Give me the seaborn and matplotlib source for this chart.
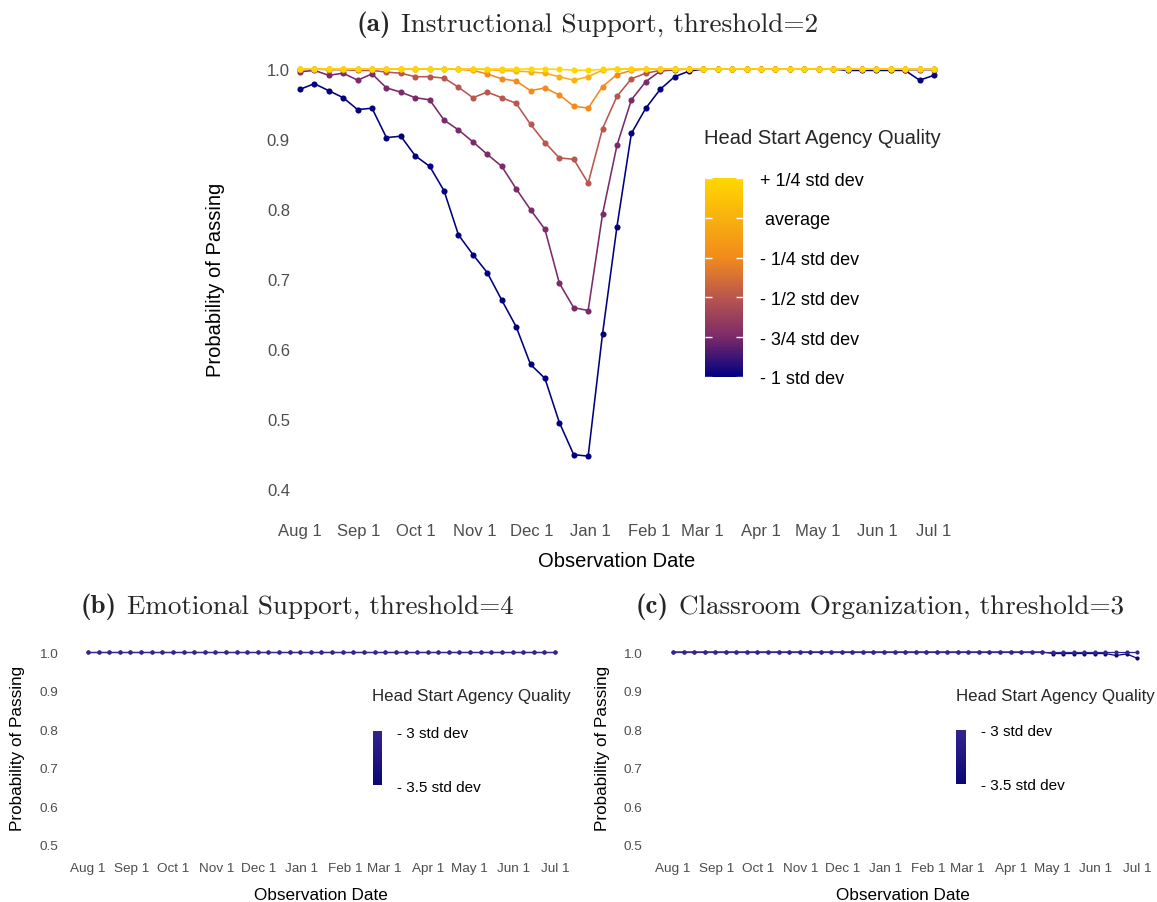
import numpy as np
import pandas as pd
import matplotlib
matplotlib.use("Agg")
import matplotlib.pyplot as plt
import seaborn as sns
from matplotlib.colors import LinearSegmentedColormap, Normalize
from matplotlib.cm import ScalarMappable

# ---------------- data ----------------
START, END, N_OBS = "2012-08-01", "2013-07-01", 45
obs_dates = pd.date_range(START, END, periods=N_OBS)
month_ticks = pd.date_range(START, END, freq="MS")
month_labels = ["Aug 1", "Sep 1", "Oct 1", "Nov 1", "Dec 1", "Jan 1",
                "Feb 1", "Mar 1", "Apr 1", "May 1", "Jun 1", "Jul 1"]

# (a) Instructional Support, threshold=2
a_levels = [-1.0, -0.75, -0.5, -0.25, 0.0, 0.25]
a_labels = ["- 1 std dev", "- 3/4 std dev", "- 1/2 std dev",
            "- 1/4 std dev", " average", "+ 1/4 std dev"]
a_colors = ["#000080", "#7B2A6A", "#B9564E", "#F28A1C", "#F8B10E", "#FFD700"]
a_yticks = [0.4, 0.5, 0.6, 0.7, 0.8, 0.9, 1.0]

a_m100 = [0.971, 0.979, 0.969, 0.959, 0.942, 0.944, 0.902, 0.904, 0.876, 0.861,
          0.826, 0.763, 0.735, 0.709, 0.670, 0.632, 0.578, 0.558, 0.495, 0.449,
          0.447, 0.622, 0.775, 0.908, 0.944, 0.971, 0.989, 0.997, 1.000, 1.000,
          1.000, 1.000, 1.000, 1.000, 1.000, 1.000, 1.000, 1.000, 0.998, 0.998,
          0.998, 0.998, 0.998, 0.984, 0.991]
a_m075 = [0.996, 0.998, 0.991, 0.994, 0.984, 0.993, 0.973, 0.967, 0.959, 0.956,
          0.927, 0.913, 0.896, 0.878, 0.861, 0.829, 0.799, 0.771, 0.694, 0.659,
          0.655, 0.793, 0.891, 0.956, 0.982, 0.997, 0.999, 1.000, 1.000, 1.000,
          1.000, 1.000, 1.000, 1.000, 1.000, 1.000, 1.000, 1.000, 1.000, 1.000,
          1.000, 1.000, 0.999, 0.999, 0.999]
a_m050 = [0.999, 1.000, 0.999, 0.999, 0.998, 0.998, 0.9955, 0.994, 0.989, 0.989,
          0.987, 0.974, 0.959, 0.967, 0.959, 0.951, 0.921, 0.895, 0.873, 0.871,
          0.837, 0.915, 0.961, 0.986, 0.994, 0.998, 0.9995, 1.000, 1.000, 1.000,
          1.000, 1.000, 1.000, 1.000, 1.000, 1.000, 1.000, 1.000, 1.000, 1.000,
          1.000, 1.000, 1.000, 1.000, 1.000]
a_m025 = [1.000, 1.000, 1.000, 1.000, 1.000, 1.000, 1.000, 1.000, 1.000, 1.000,
          1.000, 0.9995, 0.998, 0.993, 0.986, 0.983, 0.969, 0.973, 0.963, 0.947,
          0.944, 0.975, 0.992, 0.998, 1.000, 1.000, 1.000, 1.000, 1.000, 1.000,
          1.000, 1.000, 1.000, 1.000, 1.000, 1.000, 1.000, 1.000, 1.000, 1.000,
          1.000, 1.000, 1.000, 1.000, 1.000]
a_avg = [1.000, 1.000, 1.000, 1.000, 1.000, 1.000, 1.000, 1.000, 1.000, 1.000,
         1.000, 1.000, 1.000, 0.999, 0.998, 0.997, 0.996, 0.994, 0.989, 0.984,
         0.989, 0.9985, 1.000, 1.000, 1.000, 1.000, 1.000, 1.000, 1.000, 1.000,
         1.000, 1.000, 1.000, 1.000, 1.000, 1.000, 1.000, 1.000, 1.000, 1.000,
         1.000, 1.000, 1.000, 1.000, 1.000]
a_p025 = [1.000, 1.000, 1.000, 1.000, 1.000, 1.000, 1.000, 1.000, 1.000, 1.000,
          1.000, 1.000, 1.000, 1.000, 1.000, 1.000, 1.000, 1.000, 0.9995, 0.9985,
          0.998, 0.9995, 1.000, 1.000, 1.000, 1.000, 1.000, 1.000, 1.000, 1.000,
          1.000, 1.000, 1.000, 1.000, 1.000, 1.000, 1.000, 1.000, 1.000, 1.000,
          1.000, 1.000, 1.000, 1.000, 1.000]
a_series = [a_m100, a_m075, a_m050, a_m025, a_avg, a_p025]

# (b) Emotional Support, threshold=4 and (c) Classroom Organization, threshold=3
bc_levels = [-3.5, -3.0]
bc_labels = ["- 3.5 std dev", "- 3 std dev"]
bc_colors = ["#0B0777", "#33248F"]
bc_yticks = [0.5, 0.6, 0.7, 0.8, 0.9, 1.0]

b_m350 = [1.000, 1.000, 1.000, 1.000, 1.000, 1.000, 1.000, 1.000, 1.000, 1.000,
          1.000, 1.000, 1.000, 1.000, 1.000, 1.000, 1.000, 1.000, 1.000, 1.000,
          1.000, 1.000, 1.000, 1.000, 1.000, 1.000, 1.000, 1.000, 1.000, 1.000,
          1.000, 1.000, 1.000, 1.000, 1.000, 1.000, 1.000, 1.000, 1.000, 1.000,
          1.000, 1.000, 1.000, 1.000, 1.000]
b_m300 = [1.000, 1.000, 1.000, 1.000, 1.000, 1.000, 1.000, 1.000, 1.000, 1.000,
          1.000, 1.000, 1.000, 1.000, 1.000, 1.000, 1.000, 1.000, 1.000, 1.000,
          1.000, 1.000, 1.000, 1.000, 1.000, 1.000, 1.000, 1.000, 1.000, 1.000,
          1.000, 1.000, 1.000, 1.000, 1.000, 1.000, 1.000, 1.000, 1.000, 1.000,
          1.000, 1.000, 1.000, 1.000, 1.000]
c_m350 = [1.000, 1.000, 1.000, 1.000, 1.000, 1.000, 1.000, 1.000, 1.000, 1.000,
          1.000, 1.000, 1.000, 1.000, 1.000, 1.000, 1.000, 1.000, 1.000, 1.000,
          1.000, 1.000, 1.000, 1.000, 1.000, 1.000, 1.000, 1.000, 1.000, 1.000,
          1.000, 1.000, 1.000, 1.000, 1.000, 1.000, 0.996, 0.996, 0.996, 0.996,
          0.996, 0.996, 0.991, 0.995, 0.984]
c_m300 = [1.000, 1.000, 1.000, 1.000, 1.000, 1.000, 1.000, 1.000, 1.000, 1.000,
          1.000, 1.000, 1.000, 1.000, 1.000, 1.000, 1.000, 1.000, 1.000, 1.000,
          1.000, 1.000, 1.000, 1.000, 1.000, 1.000, 1.000, 1.000, 1.000, 1.000,
          1.000, 1.000, 1.000, 1.000, 1.000, 1.000, 1.000, 1.000, 1.000, 1.000,
          1.000, 1.000, 1.000, 1.000, 1.000]
b_series = [b_m350, b_m300]
c_series = [c_m350, c_m300]

# ---------------- style ----------------
sns.set_style("white")
plt.rcParams["font.family"] = ["Liberation Sans", "DejaVu Sans"]
TICK_GREY = "#4D4D4D"

W, H = 1157, 903
fig = plt.figure(figsize=(W / 100, H / 100), dpi=100)


def px_axes(left, top, right, bottom):
    return fig.add_axes([left / W, 1 - bottom / H, (right - left) / W, (bottom - top) / H])


def long_frame(series, labels):
    frames = []
    for vals, lab in zip(series, labels):
        frames.append(pd.DataFrame({"date": obs_dates, "prob": vals, "level": lab}))
    return pd.concat(frames, ignore_index=True)


def style_axes(ax, yticks, tick_size, title_size, xpad, ypad, ylab_x, xlab_y):
    for s in ax.spines.values():
        s.set_visible(False)
    ax.grid(False)
    ax.set_xticks(month_ticks)
    ax.set_xticklabels(month_labels)
    ax.set_yticks(yticks)
    ax.set_yticklabels([f"{v:.1f}" for v in yticks])
    ax.tick_params(axis="both", length=0, labelsize=tick_size, labelcolor=TICK_GREY)
    ax.tick_params(axis="x", pad=xpad)
    ax.tick_params(axis="y", pad=ypad)
    ax.set_xlabel("Observation Date", fontsize=title_size, color="black", va="center")
    ax.set_ylabel("Probability of Passing", fontsize=title_size, color="black", va="center")
    ax.yaxis.set_label_coords(ylab_x, 0.5)
    ax.xaxis.set_label_coords(0.5, xlab_y)


def two_part_title(xc, yc, bold, rest, size):
    r = fig.canvas.get_renderer()
    t1 = fig.text(0, 1 - yc / H, bold, family="cmb10", fontsize=size, va="center", ha="left")
    t2 = fig.text(0, 1 - yc / H, rest, family="cmr10", fontsize=size, va="center", ha="left")
    w1 = t1.get_window_extent(r).width
    w2 = t2.get_window_extent(r).width
    gap = size * 100 / 72 * 0.36
    x0 = xc - (w1 + gap + w2) / 2
    t1.set_x(x0 / W)
    t2.set_x((x0 + w1 + gap) / W)


def colorbar(left, top, right, bottom, levels, labels, colors, label_size, pad, white_ticks):
    cax = px_axes(left, top, right, bottom)
    cmap = LinearSegmentedColormap.from_list("q", colors)
    sm = ScalarMappable(norm=Normalize(min(levels), max(levels)), cmap=cmap)
    cb = fig.colorbar(sm, cax=cax, ticks=levels)
    cb.set_ticklabels(labels)
    cb.outline.set_visible(False)
    cax.tick_params(length=0, pad=pad, labelsize=label_size, labelcolor="black")
    if white_ticks:
        for lv in levels:
            cax.plot([0, 0.18], [lv, lv], color="white", lw=1.0, solid_capstyle="butt")
            cax.plot([0.82, 1], [lv, lv], color="white", lw=1.0, solid_capstyle="butt")
    return cax


# ---------------- panel (a) ----------------
ax_a = px_axes(292, 49, 941, 511)
df_a = long_frame(a_series, a_labels)
sns.lineplot(data=df_a, x="date", y="prob", hue="level", hue_order=a_labels,
             palette=dict(zip(a_labels, a_colors)), marker="o", markersize=4.4,
             markeredgewidth=0, linewidth=1.15, legend=False, errorbar=None, ax=ax_a)
t0 = pd.Timestamp(START)
t1 = pd.Timestamp(END)
ax_a.set_xlim(t0 - pd.Timedelta(days=4.2), t1 + pd.Timedelta(days=3.7))
ax_a.set_ylim(0.37, 1.03)
style_axes(ax_a, a_yticks, 12, 14.5, xpad=9.5, ypad=1.5, ylab_x=-0.118, xlab_y=-0.109)
two_part_title(587.5, 25, "(a)", "Instructional Support, threshold=2", 19.6)
fig.text(704 / W, 1 - 138 / H, "Head Start Agency Quality", fontsize=14.5, va="center", ha="left")
colorbar(705, 179, 743, 378, a_levels, a_labels, a_colors, 13, 12, True)

# ---------------- panel (b) ----------------
ax_b = px_axes(61, 640, 580, 856)
df_b = long_frame(b_series, bc_labels)
sns.lineplot(data=df_b, x="date", y="prob", hue="level", hue_order=bc_labels,
             palette=dict(zip(bc_labels, bc_colors)), marker="o", markersize=3.0,
             markeredgewidth=0, linewidth=0.9, legend=False, errorbar=None, ax=ax_b)
ax_b.set_xlim(t0 - pd.Timedelta(days=19.3), t1 + pd.Timedelta(days=17.9))
ax_b.set_ylim(0.474, 1.0337)
style_axes(ax_b, bc_yticks, 9.7, 12.3, xpad=5.4, ypad=2.2, ylab_x=-0.083, xlab_y=-0.181)
two_part_title(297, 607, "(b)", "Emotional Support, threshold=4", 19.5)
fig.text(372 / W, 1 - 697 / H, "Head Start Agency Quality", fontsize=12.2, va="center", ha="left")
colorbar(373, 732, 382, 786, bc_levels, bc_labels, bc_colors, 11, 11, False)

# ---------------- panel (c) ----------------
ax_c = px_axes(645, 640, 1160, 856)
df_c = long_frame(c_series, bc_labels)
sns.lineplot(data=df_c, x="date", y="prob", hue="level", hue_order=bc_labels,
             palette=dict(zip(bc_labels, bc_colors)), marker="o", markersize=3.0,
             markeredgewidth=0, linewidth=0.9, legend=False, errorbar=None, ax=ax_c)
ax_c.set_xlim(t0 - pd.Timedelta(days=20.2), t1 + pd.Timedelta(days=16.5))
ax_c.set_ylim(0.474, 1.0337)
style_axes(ax_c, bc_yticks, 9.7, 12.3, xpad=5.4, ypad=2.2, ylab_x=-0.083, xlab_y=-0.181)
two_part_title(880, 607, "(c)", "Classroom Organization, threshold=3", 19.5)
fig.text(956 / W, 1 - 696 / H, "Head Start Agency Quality", fontsize=12.2, va="center", ha="left")
colorbar(956, 731, 966, 785, bc_levels, bc_labels, bc_colors, 11, 11, False)

fig.savefig("out.png", dpi=100, facecolor="white")
